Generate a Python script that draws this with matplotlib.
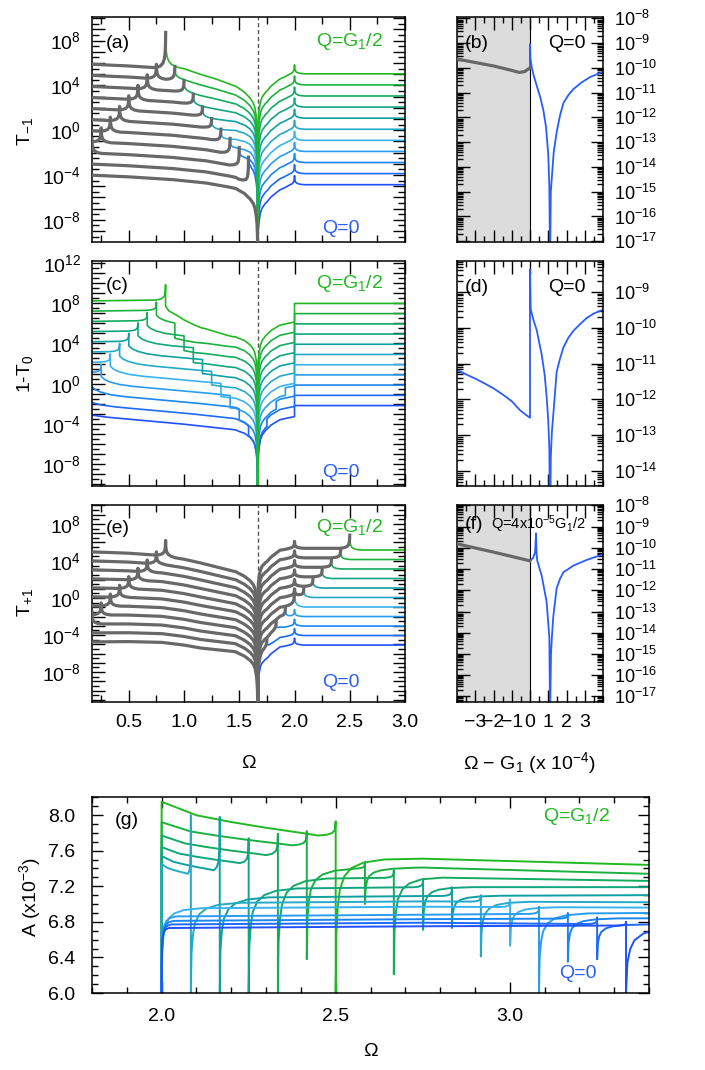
import numpy as np
import matplotlib
matplotlib.use("Agg")
import matplotlib.pyplot as plt
from matplotlib.colors import LinearSegmentedColormap
from matplotlib.ticker import FixedLocator, FuncFormatter, MultipleLocator, LogLocator, NullFormatter

plt.rcParams['font.family'] = ['Liberation Sans', 'DejaVu Sans']
plt.rcParams['mathtext.fontset'] = 'custom'
plt.rcParams['mathtext.rm'] = 'Liberation Sans'
plt.rcParams['mathtext.it'] = 'Liberation Sans:italic'
plt.rcParams['mathtext.bf'] = 'Liberation Sans:bold'
plt.rcParams['axes.linewidth'] = 1.1

# ------------------------------------------------------------------
# values
# ------------------------------------------------------------------
G1 = 1.667                      # dashed line / dip position
Q_VALUES = [0.0, 0.083, 0.167, 0.25, 0.333, 0.417, 0.5, 0.583, 0.667, 0.75, 0.833]
OM_MIN, OM_MAX = 0.167, 3.0
OM_CUT = 2.0

# shared shapes (log10 offsets) read near the dip and near cusps
DIP_D = [0.0, 0.0005, 0.002, 0.006, 0.012, 0.025, 0.04, 0.07, 0.12, 0.2]
DIP_Y = [-40.0, -5.5, -4.0, -3.0, -2.3, -1.5, -1.1, -0.7, -0.3, 0.0]
CUSP_D = [0.0, 0.002, 0.006, 0.012, 0.025, 0.05, 0.09]
CUSP_F = [1.0, 0.62, 0.40, 0.26, 0.14, 0.05, 0.0]

# (a) T_-1 : log10 level of the flat right part of every curve (Q=0 ... Q=G1/2)
FLAT_A = [-4.87, -3.88, -2.89, -1.90, -0.91, 0.08, 1.07, 2.06, 3.05, 4.04, 5.03]
GRAY_A_X = [0.167, 0.5, 0.9, 1.2, 1.4, 1.5, 1.58, 1.667]
GRAY_A_Y = [0.85, 0.7, 0.45, 0.15, -0.2, -0.4, -0.55, -0.6]
COL_A_X = [0.85, 1.0, 1.15, 1.3, 1.45, 1.55, 1.667]
COL_A_Y = [0.8, 0.45, -0.05, -0.5, -1.05, -1.35, -1.6]
FAN_A_X = [0.85, 1.1, 1.3, 1.5, 1.6, 1.667]
FAN_A_Y = [0.0, 0.03, 0.1, 0.22, 0.3, 0.33]
RIGHT_A_X = [1.667, 1.75, 1.87, 1.95, 2.0, 3.0]
RIGHT_A_Y = [-1.0, -0.95, -0.45, -0.1, 0.0, 0.0]
QCUSP_A = [1.3] * 10 + [0.0]
HOOK_A = [0.0] + [0.9] * 8 + [1.0, 2.9]
CUT_CUSP_A = 0.8

# (c) 1-T_0
FLAT_C = [-2.17, -1.16, -0.14, 0.87, 1.88, 2.90, 3.91, 4.92, 5.93, 6.95, 7.96]
PRE_C_X = [0.167, 0.5, 0.833]
PRE_C_Y = [0.25, 0.3, 0.35]
QCUSP_C = [0.8] * 10 + [1.5]
MID_C_D = [0.0, 0.03, 0.08, 0.167, 0.3, 0.6, 1.0, 1.5]
MID_C_Y = [-0.15, -0.45, -0.7, -0.95, -1.15, -1.45, -1.85, -2.45]
POST_C_X = [0.833, 0.92, 1.0, 1.1, 1.2, 1.3, 1.4, 1.5, 1.667]
POST_C_Y = [-2.3, -2.45, -2.65, -2.85, -2.95, -3.1, -3.25, -3.35, -3.45]
TAIL_D = [0.0, 0.03, 0.09, 0.17, 0.32, 0.6]
TAIL_F = [2.0, 1.6, 1.35, 1.0, 0.5, 0.0]
TAIL_C = [0.0] * 10 + [1.0]
RC_X = [1.667, 1.75, 1.8, 1.87, 1.93, 2.0]
RC_Y = [-1.9, -1.75, -1.6, -1.4, -1.25, -1.1]
STEP_RC = 0.75

# (e) T_+1
FLAT_E = [-5.08, -4.05, -3.03, -2.00, -0.97, 0.06, 1.08, 2.11, 3.14, 4.16, 5.19]
GE_X = [0.167, 0.5, 0.8, 1.0, 1.15, 1.3, 1.45, 1.55, 1.667]
GE_Y = [-0.2, -0.35, -0.6, -1.0, -1.4, -1.85, -2.3, -2.55, -2.7]
FE_X = [0.167, 1.15, 1.45, 1.667]
FE_Y = [0.054, 0.108, 0.16, 0.17]
QCUSP_E = [1.3] * 10 + [1.7]
RE_X = [1.667, 1.75, 1.87, 1.95, 2.0, 3.0]
RE_Y = [-0.8, -0.85, -0.2, -0.05, 0.0, 0.0]
HOOK_E = [1.0] * 10 + [1.6]
GOFF_E = 0.18
CUT_CUSP_E = 0.75

# (b), (d), (f): zoom around G1, x in units of 1e-4, log10 values
B_GRAY_X = [-4.0, -3.0, -2.0, -1.0, -0.6, -0.3, -0.1, 0.0]
B_GRAY_Y = [-9.64, -9.78, -9.92, -10.1, -10.18, -10.15, -10.05, -10.0]
B_BLUE_X = [0.0, 0.0, 0.02, 0.09, 0.2, 0.37, 0.55, 0.73, 0.88, 1.0, 1.06, 1.1, 1.14, 1.19, 1.3,
            1.46, 1.65, 1.83, 2.1, 2.37, 2.8, 3.29, 3.98]
B_BLUE_Y = [-10.0, -9.04, -9.6, -9.95, -10.3, -10.72, -11.15, -11.7, -12.4, -13.5, -14.8, -18.0,
            -15.0, -14.5, -13.4, -12.6, -11.9, -11.42, -11.1, -10.86, -10.6, -10.37, -10.16]
D_BLUE_X = [-4.0, -3.5, -3.0, -2.5, -2.0, -1.5, -1.0, -0.55, -0.25, 0.0, 0.0, 0.04, 0.2, 0.37,
            0.64, 0.8, 0.91, 1.0, 1.06, 1.1, 1.14, 1.2, 1.28, 1.46, 1.65, 1.83, 2.1, 2.37, 2.7,
            3.1, 3.5, 3.98]
D_BLUE_Y = [-11.18, -11.3, -11.42, -11.55, -11.69, -11.86, -12.05, -12.3, -12.42, -12.51, -8.37,
            -9.49, -9.8, -10.07, -10.75, -11.3, -11.91, -12.6, -13.37, -16.0, -13.6, -12.9,
            -12.4, -11.23, -10.85, -10.55, -10.28, -10.09, -9.92, -9.73, -9.6, -9.5]
F_GRAY_X = [-4.0, -2.0, 0.0]
F_GRAY_Y = [-9.81, -10.2, -10.61]
F_BLUE_X = [0.0, 0.18, 0.28, 0.33, 0.36, 0.4, 0.64, 0.91, 1.06, 1.1, 1.15, 1.2, 1.28, 1.46, 1.65,
            1.83, 2.37, 3.1, 3.98]
F_BLUE_Y = [-10.61, -10.46, -10.2, -9.31, -10.3, -10.61, -11.31, -12.54, -14.23, -18.0, -15.0,
            -14.2, -13.2, -11.9, -11.45, -11.15, -10.84, -10.57, -10.31]

# (g) A (x1e-3) versus Omega, one entry per curve (Q=0 ... Q=G1/2)
NAN = float('nan')
G_START = [NAN] * 5 + [7.45, 7.54, 7.64, 7.77, 7.92, 8.15]
G_MIN = [NAN] * 5 + [7.34, 7.38, 7.46, 7.55, 7.66, 7.77]
G_TOP1 = [NAN] * 5 + [8.00, 7.98, 7.74, 7.79, 7.82, 7.93]
G_BOT1 = [6.0] * 5 + [6.0, 6.0, 6.0, 6.0, 6.38, 6.0]
G_PLAT = [6.75, 6.79, 6.83, 6.88, 6.97, 7.03, 7.09, 7.19, 7.30, 7.41, 7.51]
G_END = [6.76, 6.77, 6.84, 6.90, 6.96, 7.02, 7.10, 7.19, 7.26, 7.34, 7.44]
G_TOP2 = [6.80, 6.85, 6.90, 6.97, 7.05, 7.10, 7.19, 7.28, 7.38, 7.47, NAN]
G_BOT2 = [6.0, 6.38, 6.35, 6.0, 6.53, 6.41, 6.73, 6.71, 6.21, 7.0, NAN]
G_RW = [0.15, 0.2, 0.25, 0.3, 0.8, 1, 1, 1, 1, 1, 1]
G_RW2 = [2.0, 1, 1, 1, 1, 1, 1, 1, 1, 1, 1]
UL_T = [0.0, 0.2, 0.4, 0.6, 0.8, 0.9, 0.95, 0.98, 0.995, 1.0]
UL_A = [0.0, 0.4, 0.6, 0.77, 0.92, 1.0, 1.0, 1.0, 1.0, 1.0]
UL_B = [0.0, 0.0, 0.0, 0.0, 0.0, 0.0, 0.06, 0.18, 0.4, 1.0]
RISE_D = [0.0, 0.002, 0.006, 0.012, 0.025, 0.045, 0.08, 0.14]
RISE_F = [0.0, 0.45, 0.65, 0.78, 0.88, 0.94, 0.98, 1.0]

# ------------------------------------------------------------------
cmap = LinearSegmentedColormap.from_list(
    'q', ['#2050ff', '#1a86f2', '#3ab2f0', '#10a0a2', '#14aa60', '#22b822'])
GRAY = '#686868'
GREEN = '#22b822'
BLUE = '#2a5cff'

DIPK = np.concatenate([G1 - np.array(DIP_D), G1 + np.array(DIP_D)])


def cuspk(x0, scale=1.0):
    d = np.array(CUSP_D) * scale
    return np.concatenate([x0 - d, x0 + d])


def grid(lo, hi, *arrs):
    pts = [lo, hi]
    for a in arrs:
        pts.extend(np.ravel(a).tolist())
    p = np.unique(np.array(pts, dtype=float))
    return p[(p >= lo) & (p <= hi)]


def dipf(x):
    return np.interp(np.abs(np.asarray(x) - G1), DIP_D, DIP_Y)


def fr(x, x0, scale=1.0):
    return np.interp(np.abs(np.asarray(x) - x0) / scale, CUSP_D, CUSP_F)


# ---------------- panel (a) -----------------
def curve_a(k):
    q = Q_VALUES[k]; r = G1 - q; F = FLAT_A[k]; w = 10 - k
    segs = []

    def gbase(x):
        return F + np.interp(x, GRAY_A_X, GRAY_A_Y) + dipf(x)

    def cbase(x):
        return F + np.interp(x, COL_A_X, COL_A_Y) + w * np.interp(x, FAN_A_X, FAN_A_Y) + dipf(x)

    if k == 0:
        x = grid(OM_MIN, G1, GRAY_A_X, DIPK)
        segs.append((x, gbase(x), 'gray'))
    else:
        peak = cbase(r) + HOOK_A[k]
        x = grid(OM_MIN, r, GRAY_A_X, DIPK, cuspk(q), cuspk(r))
        y = gbase(x) + QCUSP_A[k] * fr(x, q) + (peak - gbase(r)) * fr(x, r)
        segs.append((x, y, 'gray'))
        x = grid(r, G1, COL_A_X, FAN_A_X, DIPK, cuspk(r))
        y = cbase(x) + (peak - cbase(r)) * fr(x, r)
        segs.append((x, y, 'col'))
    x = grid(G1, OM_MAX, RIGHT_A_X, DIPK, cuspk(OM_CUT))
    y = F + np.interp(x, RIGHT_A_X, RIGHT_A_Y) + dipf(x) + CUT_CUSP_A * fr(x, OM_CUT)
    segs.append((x, y, 'col'))
    return segs


# ---------------- panel (c) -----------------
def curve_c(k):
    q = Q_VALUES[k]; r = G1 - q; s = G1 + q; F = FLAT_C[k]
    xs, ys = [], []
    if q > OM_MIN + 1e-9:
        x = grid(OM_MIN, q, PRE_C_X, cuspk(q))
        xs.append(x); ys.append(F + np.interp(x, PRE_C_X, PRE_C_Y) + QCUSP_C[k] * fr(x, q))
    lo = max(q, OM_MIN)
    if r > lo + 1e-6:
        x = grid(lo, r, q + np.array(MID_C_D), DIPK)
        xs.append(x); ys.append(F + np.interp(x - q, MID_C_D, MID_C_Y) + dipf(x))
    if k > 0:
        x = grid(r, G1, POST_C_X, DIPK, r + np.array(TAIL_D))
        xs.append(x)
        ys.append(F + np.interp(x, POST_C_X, POST_C_Y) + dipf(x)
                  + TAIL_C[k] * np.interp(x - r, TAIL_D, TAIL_F))
    if s < OM_CUT:
        if s > G1 + 1e-6:
            x = grid(G1, s, RC_X, DIPK)
            xs.append(x); ys.append(F + np.interp(x, RC_X, RC_Y) + dipf(x) - STEP_RC)
        x = grid(s, OM_CUT, RC_X, DIPK)
        xs.append(x); ys.append(F + np.interp(x, RC_X, RC_Y) + dipf(x))
    else:
        x = grid(G1, OM_CUT, RC_X, DIPK)
        xs.append(x); ys.append(F + np.interp(x, RC_X, RC_Y) + dipf(x) - STEP_RC)
    xs.append(np.array([OM_CUT, OM_MAX])); ys.append(np.array([F, F]))
    return np.concatenate(xs), np.concatenate(ys)


# ---------------- panel (e) -----------------
def curve_e(k):
    q = Q_VALUES[k]; s = G1 + q; F = FLAT_E[k]; w = 10 - k
    segs = []
    x = grid(OM_MIN, G1, GE_X, FE_X, DIPK, cuspk(q))
    y = F + np.interp(x, GE_X, GE_Y) + w * np.interp(x, FE_X, FE_Y) + dipf(x) + QCUSP_E[k] * fr(x, q)
    segs.append((x, y, 'gray'))

    def rbase(x):
        return F + np.interp(x, RE_X, RE_Y) + dipf(x) + CUT_CUSP_E * fr(x, OM_CUT)

    if k == 0:
        x = grid(G1, OM_MAX, RE_X, DIPK, cuspk(OM_CUT))
        segs.append((x, rbase(x), 'col'))
    else:
        peak = rbase(s) + HOOK_E[k]
        x = grid(G1, s, RE_X, DIPK, cuspk(OM_CUT), cuspk(s))
        y = rbase(x) + GOFF_E + (peak - rbase(s) - GOFF_E) * fr(x, s)
        segs.append((x, y, 'gray'))
        x = grid(s, OM_MAX, RE_X, DIPK, cuspk(OM_CUT), cuspk(s))
        y = rbase(x) + (peak - rbase(s)) * fr(x, s)
        segs.append((x, y, 'col'))
    return segs


# ---------------- panel (g) -----------------
def curve_g(k):
    q = Q_VALUES[k]
    s = max(G1 + q, OM_CUT)
    x2 = 2 * G1 - q
    xe = 3.4
    xs, ys = [], []
    if G1 + q > OM_CUT + 1e-6:
        t = np.array(UL_T)
        xx = OM_CUT + t * (s - OM_CUT)
        yy = G_START[k] + (G_MIN[k] - G_START[k]) * np.array(UL_A) + (G_TOP1[k] - G_MIN[k]) * np.array(UL_B)
        xs += [OM_CUT] + list(xx)
        ys += [6.0] + list(yy)

    def plat(x):
        return np.interp(x, [s, 2.75, xe], [G_PLAT[k] - 0.02, G_PLAT[k], G_END[k]])

    has_dip = (k < 10) and (x2 < xe)
    hi = x2 if has_dip else xe
    x = grid(s, hi, s + G_RW[k] * np.array(RISE_D), [2.75], cuspk(x2, 0.3) if has_dip else [])
    D = G_BOT1[k]
    y = D + (plat(x) - D) * np.interp((x - s) / G_RW[k], RISE_D, RISE_F)
    if has_dip:
        y = y + (G_TOP2[k] - plat(x2)) * fr(x, x2, 0.3)
    xs += list(x); ys += list(y)
    if has_dip:
        x = grid(x2, xe, x2 + G_RW2[k] * np.array(RISE_D), [2.75])
        D2 = G_BOT2[k]
        y = D2 + (plat(x) - D2) * np.interp((x - x2) / G_RW2[k], RISE_D, RISE_F)
        xs += list(x); ys += list(y)
    return np.array(xs), np.array(ys)


# ------------------------------------------------------------------
W, H = 705.0, 1070.0
fig = plt.figure(figsize=(W / 100, H / 100), dpi=100)


def add_ax(l, t, r, b):
    return fig.add_axes([l / W, 1 - b / H, (r - l) / W, (b - t) / H])


ax_a = add_ax(92, 16.7, 405, 241.7)
ax_b = add_ax(457, 16.7, 603, 241.7)
ax_c = add_ax(92, 261.5, 405, 485.8)
ax_d = add_ax(457, 261.5, 603, 485.8)
ax_e = add_ax(92, 505, 405, 701.7)
ax_f = add_ax(457, 505, 603, 701.7)
ax_g = add_ax(92, 797.3, 649, 993)

FS = 14
FSZ = 13


def exp_label(v, every):
    e = int(round(np.log10(v)))
    if e % every == 0:
        return r'$10^{%d}$' % e
    return ''


def style_main(ax, lo, hi, xlabels):
    ax.set_yscale('log')
    ax.set_ylim(10.0 ** lo, 10.0 ** hi)
    ax.set_xlim(OM_MIN, OM_MAX)
    es = range(int(np.floor(lo)), int(np.ceil(hi)) + 1)
    ax.yaxis.set_major_locator(FixedLocator([10.0 ** e for e in es]))
    ax.yaxis.set_minor_locator(FixedLocator([10.0 ** (e + 0.5) for e in es]))
    ax.yaxis.set_major_formatter(FuncFormatter(lambda v, p: exp_label(v, 4)))
    ax.yaxis.set_minor_formatter(NullFormatter())
    ax.xaxis.set_major_locator(MultipleLocator(0.5))
    ax.xaxis.set_minor_locator(MultipleLocator(0.25))
    ax.xaxis.set_major_formatter(FuncFormatter(lambda v, p: '%.1f' % v))
    ax.tick_params(which='both', direction='in', top=True, right=True, width=1.0,
                   labelsize=FS, labelbottom=xlabels)
    ax.tick_params(which='major', length=9)
    ax.tick_params(which='minor', length=5)
    ax.tick_params(axis='y', pad=8)
    ax.tick_params(axis='x', pad=9)
    ax.axvline(G1, color='#555555', lw=1.0, ls=(0, (3, 2)), zorder=1)


def style_zoom(ax, lo, hi, xlabels):
    ax.set_yscale('log')
    ax.set_ylim(10.0 ** lo, 10.0 ** hi)
    ax.set_xlim(-4, 4)
    ax.yaxis.set_major_locator(LogLocator(base=10, numticks=30))
    ax.yaxis.set_minor_locator(LogLocator(base=10, subs=np.arange(2, 10), numticks=30))
    ax.yaxis.set_major_formatter(FuncFormatter(lambda v, p: exp_label(v, 1)))
    ax.yaxis.set_minor_formatter(NullFormatter())
    ax.xaxis.set_major_locator(FixedLocator([-3, -2, -1, 0, 1, 2, 3]))
    ax.xaxis.set_minor_locator(MultipleLocator(0.5))
    ax.xaxis.set_major_formatter(FuncFormatter(
        lambda v, p: ('\u2212%d' % abs(round(v))) if v < 0 else '%d' % round(v)))
    ax.tick_params(which='both', direction='in', top=True, right=True, left=True, width=1.0,
                   labelsize=FS, labelbottom=xlabels, labelleft=False, labelright=True)
    ax.tick_params(axis='y', labelsize=FSZ)
    ax.tick_params(which='major', length=9)
    ax.tick_params(which='minor', length=4.5)
    ax.tick_params(axis='y', pad=8)
    ax.tick_params(axis='x', pad=9)


# ---- (a)
for k in range(11):
    for x, l, kind in curve_a(k):
        if kind == 'gray':
            ax_a.plot(x, 10.0 ** l, color=GRAY, lw=2.3, zorder=3)
        else:
            ax_a.plot(x, 10.0 ** l, color=cmap(k / 10), lw=1.2, zorder=2)
style_main(ax_a, -9.96, 10.13, False)

# ---- (c)
for k in range(11):
    x, l = curve_c(k)
    ax_c.plot(x, 10.0 ** l, color=cmap(k / 10), lw=1.2, zorder=2)
style_main(ax_c, -10.13, 12.12, False)

# ---- (e)
for k in range(11):
    for x, l, kind in curve_e(k):
        if kind == 'gray':
            ax_e.plot(x, 10.0 ** l, color=GRAY, lw=2.3, zorder=3)
        else:
            ax_e.plot(x, 10.0 ** l, color=cmap(k / 10), lw=1.2, zorder=2)
style_main(ax_e, -11.2, 10.05, True)

for ax, lab, y0 in [(ax_a, '(a)', 0.883), (ax_c, '(c)', 0.895), (ax_e, '(e)', 0.883)]:
    ax.text(0.045, y0, lab, transform=ax.transAxes, fontsize=FS, va='center', ha='left')
    ax.text(0.93, y0 + 0.005, r'Q=G$_1$/2', transform=ax.transAxes, fontsize=FS,
            va='center', ha='right', color=GREEN)
    ax.text(0.856, 0.06 if ax is not ax_e else 0.1, 'Q=0', transform=ax.transAxes,
            fontsize=FS, va='center', ha='right', color=BLUE)

# ---- (b)
ax_b.axvspan(-4, 0, color='#dcdcdc', zorder=0, lw=0)
ax_b.axvline(0, color='k', lw=0.8, zorder=1)
ax_b.plot(B_GRAY_X, 10.0 ** np.array(B_GRAY_Y), color=GRAY, lw=2.3, zorder=3)
ax_b.plot(B_BLUE_X, 10.0 ** np.array(B_BLUE_Y), color=BLUE, lw=1.3, zorder=2)
style_zoom(ax_b, -17.02, -7.93, False)

# ---- (d)
ax_d.plot(D_BLUE_X, 10.0 ** np.array(D_BLUE_Y), color=BLUE, lw=1.3, zorder=2)
style_zoom(ax_d, -14.41, -8.15, False)

# ---- (f)
ax_f.axvspan(-4, 0, color='#dcdcdc', zorder=0, lw=0)
ax_f.axvline(0, color='k', lw=0.8, zorder=1)
ax_f.plot(F_GRAY_X, 10.0 ** np.array(F_GRAY_Y), color=GRAY, lw=2.3, zorder=3)
ax_f.plot(F_BLUE_X, 10.0 ** np.array(F_BLUE_Y), color=BLUE, lw=1.3, zorder=2)
style_zoom(ax_f, -17.25, -7.98, True)

ax_b.text(0.05, 0.883, '(b)', transform=ax_b.transAxes, fontsize=FS, va='center')
ax_b.text(0.88, 0.883, 'Q=0', transform=ax_b.transAxes, fontsize=FS, va='center', ha='right')
ax_d.text(0.05, 0.883, '(d)', transform=ax_d.transAxes, fontsize=FS, va='center')
ax_d.text(0.88, 0.883, 'Q=0', transform=ax_d.transAxes, fontsize=FS, va='center', ha='right')
ax_f.text(0.05, 0.9, '(f)', transform=ax_f.transAxes, fontsize=FS, va='center')
ax_f.text(0.23, 0.9, r'Q=4x10$^{-5}$G$_1$/2', transform=ax_f.transAxes, fontsize=10.5,
          va='center', ha='left')

# ---- (g)
for k in range(10, -1, -1):
    x, y = curve_g(k)
    ax_g.plot(x, y, color=cmap(k / 10), lw=1.4, zorder=2)
ax_g.set_xlim(1.8, 3.4)
ax_g.set_ylim(6.0, 8.2)
ax_g.xaxis.set_major_locator(MultipleLocator(0.5))
ax_g.xaxis.set_minor_locator(MultipleLocator(0.1))
ax_g.yaxis.set_major_locator(MultipleLocator(0.4))
ax_g.yaxis.set_minor_locator(MultipleLocator(0.1))
ax_g.xaxis.set_major_formatter(FuncFormatter(lambda v, p: '%.1f' % v))
ax_g.yaxis.set_major_formatter(FuncFormatter(lambda v, p: '%.1f' % v))
ax_g.tick_params(which='both', direction='in', top=True, right=True, width=1.0, labelsize=FS)
ax_g.tick_params(which='major', length=8)
ax_g.tick_params(which='minor', length=4)
ax_g.tick_params(axis='y', pad=12)
ax_g.tick_params(axis='x', pad=11)
ax_g.text(0.041, 0.883, '(g)', transform=ax_g.transAxes, fontsize=FS, va='center')
ax_g.text(0.93, 0.9, r'Q=G$_1$/2', transform=ax_g.transAxes, fontsize=FS, va='center',
          ha='right', color=GREEN)
ax_g.text(0.906, 0.1, 'Q=0', transform=ax_g.transAxes, fontsize=FS, va='center',
          ha='right', color=BLUE)

# ---- axis labels
fig.text(25 / W, 1 - 132 / H, r'T$_{-1}$', rotation=90, fontsize=FS, ha='center', va='center')
fig.text(25 / W, 1 - 374 / H, r'1-T$_0$', rotation=90, fontsize=FS, ha='center', va='center')
fig.text(25 / W, 1 - 603 / H, r'T$_{+1}$', rotation=90, fontsize=FS, ha='center', va='center')
fig.text(248 / W, 1 - 763 / H, '\u03a9', fontsize=FS, ha='center', va='center')
fig.text(529 / W, 1 - 763 / H, '\u03a9 \u2212 G$_1$ (x 10$^{-4}$)', fontsize=FS,
         ha='center', va='center')
fig.text(370 / W, 1 - 1052 / H, '\u03a9', fontsize=FS, ha='center', va='center')
fig.text(30 / W, 1 - 897 / H, r'A (x10$^{-3}$)', rotation=90, fontsize=FS, ha='center',
         va='center')

fig.savefig('out.png', dpi=100)
